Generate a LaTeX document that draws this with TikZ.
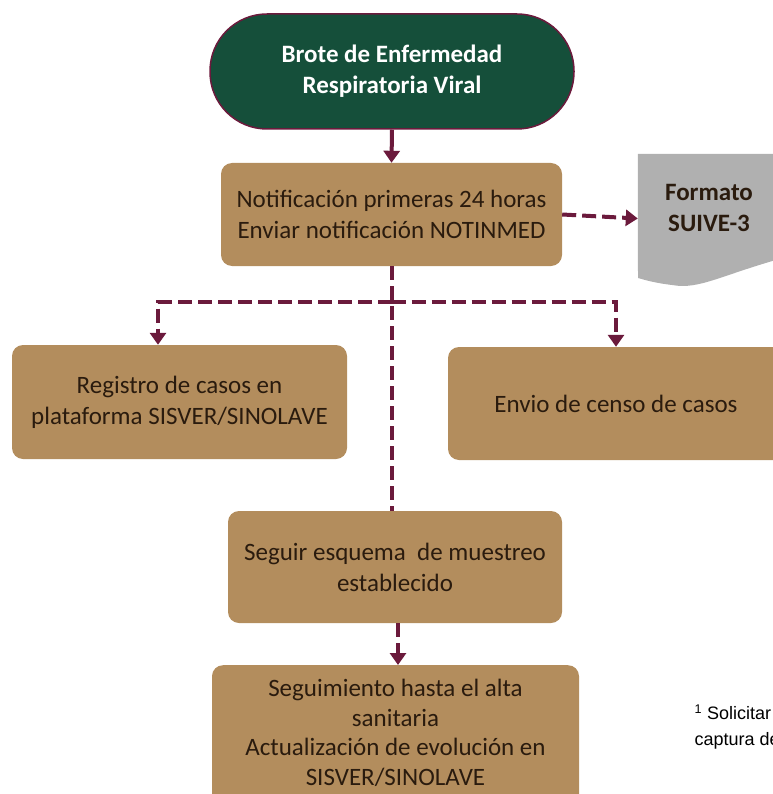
\documentclass[tikz,border=0pt]{standalone}
\usepackage{fontspec}
\setmainfont{Carlito}
\newfontfamily\arialfont{Liberation Sans}
\usetikzlibrary{arrows.meta,calc}
\definecolor{dgreen}{HTML}{154F3A}
\definecolor{maroon}{HTML}{6B1A3C}
\definecolor{tan}{HTML}{B38D5D}
\definecolor{ink}{HTML}{2A1B0E}
\definecolor{docgray}{HTML}{B0B0B0}
\tikzset{
  box/.style={rectangle, rounded corners=11pt, fill=tan, text=ink, align=center,
    inner sep=0pt, font=\fontsize{25}{31}\selectfont},
  dline/.style={draw=maroon, line width=4pt, dash pattern=on 14pt off 6pt},
  sline/.style={draw=maroon, line width=4pt},
  tip/.style={-{Triangle[length=12pt,width=16pt]}},
}
\begin{document}
\begin{tikzpicture}[x=1pt,y=-1pt]
\useasboundingbox (0,0) rectangle (772,794);
% start terminal
\node[rectangle, rounded corners=57pt, fill=dgreen, draw=maroon, line width=1.5pt,
  minimum width=364pt, minimum height=115pt, text=white, align=center,
  font=\fontsize{25}{31}\selectfont\bfseries] (start) at (392,71.5)
  {Brote de Enfermedad\\Respiratoria Viral};
% boxes
\node[box, minimum width=341pt, minimum height=103pt] (b1) at (391.5,214.5)
  {Notificación primeras 24 horas\\Enviar notificación NOTINMED};
\node[box, minimum width=335pt, minimum height=114pt] (b2) at (179.5,402)
  {Registro de casos en\\plataforma SISVER/SINOLAVE};
\node[box, minimum width=336pt, minimum height=113pt] (b3) at (616,403.5)
  {Envio de censo de casos};
\node[box, minimum width=334pt, minimum height=112pt] (b4) at (395,567)
  {Seguir esquema\ \ de muestreo\\establecido};
\node[box, minimum width=367pt, minimum height=150pt, anchor=north] (b5) at (395.5,665) {};
\node[text=ink, align=center, font=\fontsize{25}{29.7}\selectfont, anchor=north, inner sep=0pt] (b5t) at (395.5,679)
  {Seguimiento hasta el alta\\sanitaria\\Actualización de evolución en\\SISVER/SINOLAVE};
% document shape
\node[rectangle, minimum width=152pt, minimum height=129pt, inner sep=0pt] (doc) at (714,218.5) {};
\fill[docgray] (doc.north west) -- (doc.north east) -- (790,256)
  .. controls (720,275) and (700,290) .. (672,285)
  .. controls (655,283) and (645,280) .. (638,278) -- cycle;
\node[text=ink, align=center, font=\fontsize{25}{31}\selectfont\bfseries] (doct) at (709,208)
  {Formato\\SUIVE-3};
% connectors
\draw[sline, tip] (start.south) -- (b1.north);
\draw[dline, tip] (b1.east) -- (doc.west);
\coordinate (j) at ($(b1.south)+(0,36)$);
\draw[dline] (b1.south) -- (b1.south |- b4.north);
\draw[dline, tip] (j) -| ([xshift=-21.5pt]b2.north);
\draw[dline, tip] (j) -| (b3.north);
\draw[dline, tip] ([xshift=3pt]b4.south) -- ([xshift=3pt]b4.south |- b5.north);
% footnote
\node[anchor=west, align=left, font=\arialfont\fontsize{18}{26}\selectfont, text=black] (fn) at (691,727)
  {\textsuperscript{1} Solicitar\\captura de};
\end{tikzpicture}
\end{document}
